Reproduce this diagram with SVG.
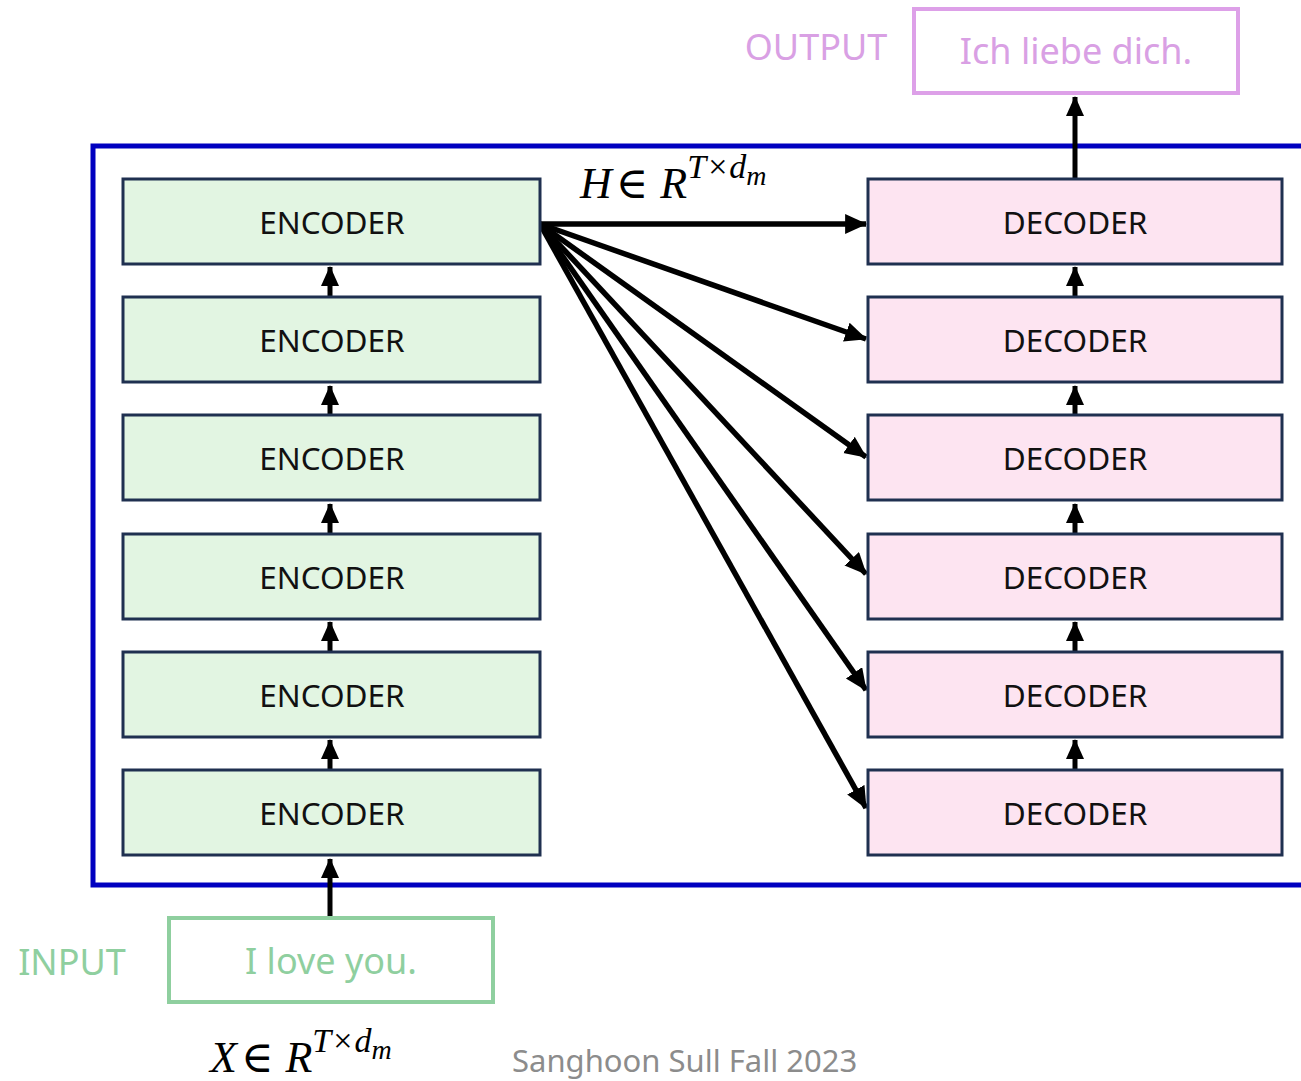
<svg xmlns="http://www.w3.org/2000/svg" width="1301" height="1081" viewBox="0 0 1301 1081">
<defs>
<marker id="ah" markerWidth="4.5" markerHeight="4.5" refX="3.8" refY="1.8" orient="auto" markerUnits="strokeWidth"><path d="M0,0 L4,1.8 L0,3.6 z" fill="#000"/></marker>
<style>
.enc{fill:#e2f5e2;stroke:#1f3050;stroke-width:3}
.dec{fill:#fde4f1;stroke:#1f3050;stroke-width:3}
.lbl{font-family:"Noto Sans","Open Sans",sans-serif;font-size:31.5px;fill:#111;text-anchor:middle}
.con{stroke:#000;stroke-width:5;fill:none;marker-end:url(#ah)}
.fan{stroke-width:5.5}
.math{font-family:"Liberation Serif","DejaVu Serif",serif;font-style:italic;fill:#000}
</style>
</defs>
<rect x="93" y="146" width="1230" height="739" fill="none" stroke="#0000c0" stroke-width="5"/>
<g id="connectors">
<line class="con" x1="330" y1="918" x2="330" y2="859"/>
<line class="con" x1="330" y1="770" x2="330" y2="740"/>
<line class="con" x1="330" y1="652" x2="330" y2="622"/>
<line class="con" x1="330" y1="534" x2="330" y2="504"/>
<line class="con" x1="330" y1="415" x2="330" y2="386"/>
<line class="con" x1="330" y1="297" x2="330" y2="267"/>
<line class="con" x1="1075" y1="770" x2="1075" y2="740"/>
<line class="con" x1="1075" y1="652" x2="1075" y2="622"/>
<line class="con" x1="1075" y1="534" x2="1075" y2="504"/>
<line class="con" x1="1075" y1="415" x2="1075" y2="386"/>
<line class="con" x1="1075" y1="297" x2="1075" y2="267"/>
<line class="con" x1="1075" y1="179" x2="1075" y2="97"/>
<line class="con fan" x1="540" y1="224" x2="866" y2="224"/>
<line class="con fan" x1="540" y1="224" x2="866" y2="339"/>
<line class="con fan" x1="540" y1="224" x2="866" y2="457"/>
<line class="con fan" x1="540" y1="224" x2="866" y2="574"/>
<line class="con fan" x1="540" y1="224" x2="866" y2="690"/>
<line class="con fan" x1="540" y1="224" x2="866" y2="808"/>
</g>
<g id="enc1"><rect class="enc" x="123" y="179" width="417" height="85"/><text class="lbl" x="332" y="234">ENCODER</text></g>
<g id="enc2"><rect class="enc" x="123" y="297" width="417" height="85"/><text class="lbl" x="332" y="352">ENCODER</text></g>
<g id="enc3"><rect class="enc" x="123" y="415" width="417" height="85"/><text class="lbl" x="332" y="470">ENCODER</text></g>
<g id="enc4"><rect class="enc" x="123" y="534" width="417" height="85"/><text class="lbl" x="332" y="589">ENCODER</text></g>
<g id="enc5"><rect class="enc" x="123" y="652" width="417" height="85"/><text class="lbl" x="332" y="707">ENCODER</text></g>
<g id="enc6"><rect class="enc" x="123" y="770" width="417" height="85"/><text class="lbl" x="332" y="825">ENCODER</text></g>
<g id="dec1"><rect class="dec" x="868" y="179" width="414" height="85"/><text class="lbl" x="1075" y="234">DECODER</text></g>
<g id="dec2"><rect class="dec" x="868" y="297" width="414" height="85"/><text class="lbl" x="1075" y="352">DECODER</text></g>
<g id="dec3"><rect class="dec" x="868" y="415" width="414" height="85"/><text class="lbl" x="1075" y="470">DECODER</text></g>
<g id="dec4"><rect class="dec" x="868" y="534" width="414" height="85"/><text class="lbl" x="1075" y="589">DECODER</text></g>
<g id="dec5"><rect class="dec" x="868" y="652" width="414" height="85"/><text class="lbl" x="1075" y="707">DECODER</text></g>
<g id="dec6"><rect class="dec" x="868" y="770" width="414" height="85"/><text class="lbl" x="1075" y="825">DECODER</text></g>
<g id="input">
<rect x="169" y="918" width="324" height="84" fill="#fff" stroke="#8fcf9f" stroke-width="4"/>
<text x="331" y="974" font-family="Noto Sans,Open Sans,sans-serif" font-size="36" fill="#8fcf9f" text-anchor="middle">I love you.</text>
</g>
<text id="input-label" x="72" y="975" font-family="Noto Sans,Open Sans,sans-serif" font-size="36" fill="#8fcf9f" text-anchor="middle">INPUT</text>
<g id="output">
<rect x="914" y="9" width="324" height="84" fill="#fff" stroke="#dda0e8" stroke-width="4"/>
<text x="1076" y="64" font-family="Noto Sans,Open Sans,sans-serif" font-size="36" fill="#d9a0e4" text-anchor="middle">Ich liebe dich.</text>
</g>
<text id="output-label" x="816" y="60" font-family="Noto Sans,Open Sans,sans-serif" font-size="36" fill="#d9a0e4" text-anchor="middle">OUTPUT</text>
<text class="math" x="580" y="198" font-size="44">H<tspan font-style="normal" dx="4">∈</tspan><tspan dx="12">R</tspan><tspan font-size="34" dy="-20">T<tspan font-style="normal" dx="2">×</tspan><tspan dx="2">d</tspan></tspan><tspan font-size="28" dy="7">m</tspan></text>
<text class="math" x="210" y="1072" font-size="44">X<tspan font-style="normal" dx="4">∈</tspan><tspan dx="12">R</tspan><tspan font-size="34" dy="-20">T<tspan font-style="normal" dx="2">×</tspan><tspan dx="2">d</tspan></tspan><tspan font-size="28" dy="7">m</tspan></text>
<text x="512" y="1072" font-family="Noto Sans,Open Sans,sans-serif" font-size="31" fill="#8c8c8c">Sanghoon  Sull  Fall  2023</text>
</svg>
